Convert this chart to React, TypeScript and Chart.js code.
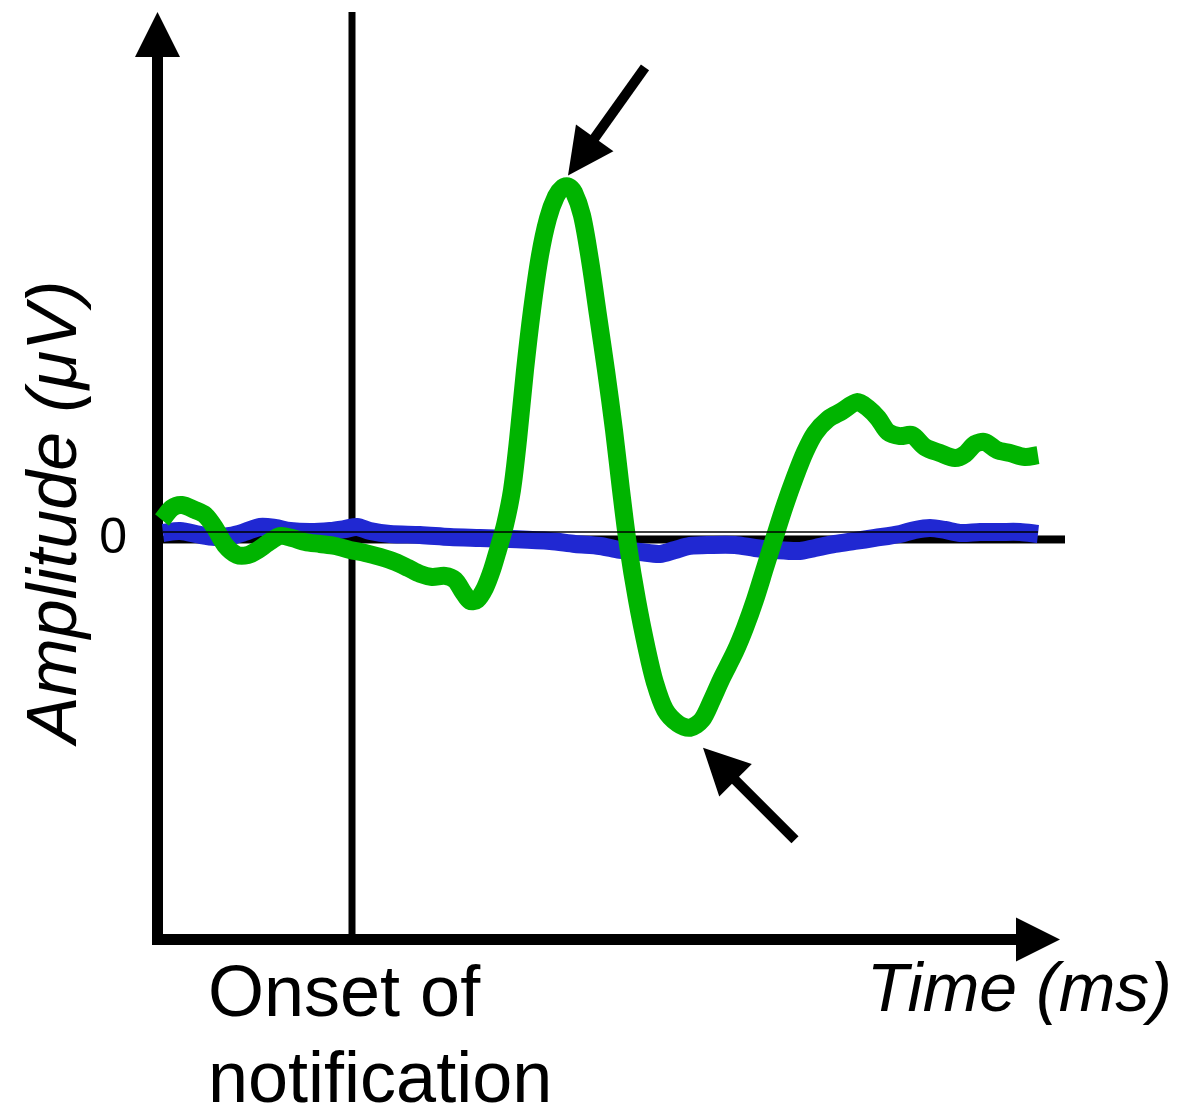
import React, { useEffect, useRef } from "react";
import { Chart, registerables } from "chart.js";

Chart.register(...registerables);

// ---- data (time in ms relative to notification onset, amplitude in µV) ----
const greenTimes = [
  -190, -180, -170, -157, -147, -137, -127, -115, -104, -94, -84, -72, -60, -47, -32,
  -17, -2, 13, 28, 43, 56, 68, 80, 93, 103, 111, 118, 125, 133, 140, 146, 153, 160,
  166, 173, 180, 188, 196, 204, 211, 216, 222, 230, 238, 246, 254, 262, 269, 276, 285,
  295, 303, 313, 326, 338, 350, 360, 369, 383, 393, 403, 413, 423, 433, 443, 453, 463,
  476, 490, 505, 516, 526, 536, 548, 560, 573, 588, 603, 613, 623, 633, 645, 658, 673, 686,
];
const greenValues = [
  0.39, 0.63, 0.69, 0.59, 0.49, 0.23, -0.11, -0.31, -0.31, -0.21, -0.07, 0.07, 0.03, -0.05, -0.09,
  -0.13, -0.21, -0.27, -0.35, -0.45, -0.57, -0.69, -0.75, -0.73, -0.81, -1.05, -1.23, -1.21, -0.97, -0.61,
  -0.21, 0.29, 0.99, 1.99, 3.39, 4.59, 5.69, 6.43, 6.87, 7.05, 7.07, 6.95, 6.49, 5.59, 4.49,
  3.39, 2.19, 0.99, -0.11, -1.21, -2.21, -2.87, -3.41, -3.69, -3.77, -3.61, -3.21, -2.81, -2.25, -1.77,
  -1.21, -0.57, 0.07, 0.69, 1.25, 1.75, 2.13, 2.41, 2.57, 2.75, 2.63, 2.43, 2.15, 2.07, 2.09,
  1.85, 1.73, 1.63, 1.71, 1.91, 1.95, 1.79, 1.73, 1.65, 1.69,
];
const blueTimes = [
  -189, -172, -152, -137, -122, -107, -92, -77, -62, -42, -22, -7, 5, 18, 38,
  68, 98, 128, 158, 198, 223, 248, 268, 288, 308, 323, 338, 358, 383, 403,
  423, 448, 463, 483, 503, 523, 548, 563, 578, 593, 608, 628, 648, 668, 686,
];
const blueValues = [
  0.13, 0.17, 0.09, 0.05, 0.07, 0.15, 0.25, 0.23, 0.17, 0.15, 0.17, 0.21, 0.25, 0.17, 0.11,
  0.09, 0.05, 0.03, 0.01, -0.03, -0.09, -0.13, -0.21, -0.25, -0.29, -0.21, -0.13, -0.11, -0.11, -0.17,
  -0.21, -0.23, -0.17, -0.09, -0.03, 0.03, 0.11, 0.19, 0.23, 0.19, 0.13, 0.15, 0.15, 0.15, 0.11,
];
const yTickValues = [0];
const yTickLabels = ["0"];
const xTitle = "Time (ms)";
const yTitle = "Amplitude (μV)";
const onsetLabel = ["Onset of", "notification"];
const onsetTime = 0;
const zeroLineRange = [-195, 713];
const thinRefLine = { value: 0.15, from: -189, to: 686 };
const xRange = [-200, 820];
const yRange = [-8, 9.1];
const xAxisEnd = 708;

const FONT = "'Liberation Sans', Arial, Helvetica, sans-serif";
const GREEN = "#00b400";
const BLUE = "#2028d2";

function drawArrow(ctx: CanvasRenderingContext2D, tipX: number, tipY: number, tailX: number, tailY: number) {
  const dx = tailX - tipX;
  const dy = tailY - tipY;
  const len = Math.hypot(dx, dy);
  const ux = dx / len;
  const uy = dy / len;
  const px = -uy;
  const py = ux;
  const headLen = 46;
  const half = 23;
  const bx = tipX + ux * headLen;
  const by = tipY + uy * headLen;
  ctx.beginPath();
  ctx.lineWidth = 10;
  ctx.lineCap = "butt";
  ctx.moveTo(bx - ux * 5, by - uy * 5);
  ctx.lineTo(tailX, tailY);
  ctx.stroke();
  ctx.beginPath();
  ctx.moveTo(tipX, tipY);
  ctx.lineTo(bx + px * half, by + py * half);
  ctx.lineTo(bx - px * half, by - py * half);
  ctx.closePath();
  ctx.fill();
}

const decorPlugin = {
  id: "decor",
  beforeDatasetsDraw(chart: any) {
    const { ctx, chartArea: ca, scales } = chart;
    const x = scales.x;
    const y = scales.y;
    ctx.save();
    ctx.fillStyle = "#000";
    // thick zero line
    const y0 = y.getPixelForValue(0);
    const zx1 = x.getPixelForValue(zeroLineRange[0]);
    const zx2 = x.getPixelForValue(zeroLineRange[1]);
    ctx.fillRect(zx1, y0 - 4, zx2 - zx1, 8);
    // onset line
    const xo = x.getPixelForValue(onsetTime);
    const topY = ca.top - 73;
    ctx.fillRect(xo - 3.5, topY, 7, ca.bottom - topY);
    // y axis with arrow
    const ax = ca.left + 5.5;
    ctx.fillRect(ca.left, topY + 40, 11, ca.bottom + 6 - (topY + 40));
    ctx.beginPath();
    ctx.moveTo(ax, topY);
    ctx.lineTo(ax + 22.5, topY + 45);
    ctx.lineTo(ax - 22.5, topY + 45);
    ctx.closePath();
    ctx.fill();
    // x axis with arrow
    const tipX = x.getPixelForValue(xAxisEnd);
    const ay = ca.bottom + 0.5;
    ctx.fillRect(ca.left, ay - 5.5, tipX - 40 - ca.left, 11);
    ctx.beginPath();
    ctx.moveTo(tipX, ay);
    ctx.lineTo(tipX - 44, ay - 22);
    ctx.lineTo(tipX - 44, ay + 22);
    ctx.closePath();
    ctx.fill();
    ctx.restore();
  },
  afterDatasetsDraw(chart: any) {
    const { ctx, scales } = chart;
    const x = scales.x;
    const y = scales.y;
    ctx.save();
    // thin reference line on top
    const ty = y.getPixelForValue(thinRefLine.value);
    ctx.strokeStyle = "#000";
    ctx.lineWidth = 1.5;
    ctx.beginPath();
    ctx.moveTo(x.getPixelForValue(thinRefLine.from), ty);
    ctx.lineTo(x.getPixelForValue(thinRefLine.to), ty);
    ctx.stroke();
    // arrows at peak and trough
    let iMax = 0;
    let iMin = 0;
    greenValues.forEach((v, i) => {
      if (v > greenValues[iMax]) iMax = i;
      if (v < greenValues[iMin]) iMin = i;
    });
    ctx.fillStyle = "#000";
    ctx.strokeStyle = "#000";
    const pkX = x.getPixelForValue(greenTimes[iMax]);
    const pkY = y.getPixelForValue(greenValues[iMax]);
    drawArrow(ctx, pkX, pkY - 11, pkX + 77, pkY - 119);
    const trX = x.getPixelForValue(greenTimes[iMin]);
    const trY = y.getPixelForValue(greenValues[iMin]);
    drawArrow(ctx, trX + 13, trY + 20, trX + 105, trY + 112);
    // onset label
    const xo = x.getPixelForValue(onsetTime);
    ctx.font = `72px ${FONT}`;
    ctx.textAlign = "left";
    ctx.textBaseline = "alphabetic";
    ctx.fillStyle = "#000";
    ctx.fillText(onsetLabel[0], xo - 144, chart.chartArea.bottom + 77);
    ctx.fillText(onsetLabel[1], xo - 144, chart.chartArea.bottom + 163);
    ctx.restore();
  },
};

export default function App() {
  const ref = useRef<HTMLCanvasElement | null>(null);
  useEffect(() => {
    if (!ref.current) return;
    const chart = new Chart(ref.current, {
      type: "line",
      data: {
        datasets: [
          {
            label: "Notification",
            data: greenTimes.map((t, i) => ({ x: t, y: greenValues[i] })),
            borderColor: GREEN,
            backgroundColor: GREEN,
            borderWidth: 18,
            pointRadius: 0,
            tension: 0.3,
            borderCapStyle: "butt",
            borderJoinStyle: "round",
            fill: false,
          },
          {
            label: "Control",
            data: blueTimes.map((t, i) => ({ x: t, y: blueValues[i] })),
            borderColor: BLUE,
            backgroundColor: BLUE,
            borderWidth: 18,
            pointRadius: 0,
            tension: 0.3,
            borderCapStyle: "butt",
            borderJoinStyle: "round",
            fill: false,
          },
        ],
      },
      options: {
        animation: false,
        responsive: false,
        devicePixelRatio: 1,
        layout: { padding: { top: 85, right: 14, left: 0, bottom: 0 } },
        plugins: { legend: { display: false }, tooltip: { enabled: false } },
        scales: {
          x: {
            type: "linear",
            min: xRange[0],
            max: xRange[1],
            grid: { display: false, drawTicks: false },
            border: { display: false },
            ticks: { display: false },
            title: {
              display: true,
              text: xTitle,
              align: "end",
              color: "#000",
              font: { family: FONT, size: 68, style: "italic", weight: "normal" },
              padding: { top: 0, bottom: 80 },
            },
            afterFit: (s: any) => {
              s.height = 174;
            },
          },
          y: {
            type: "linear",
            min: yRange[0],
            max: yRange[1],
            grid: { display: false, drawTicks: false },
            border: { display: false },
            afterBuildTicks: (s: any) => {
              s.ticks = yTickValues.map((v) => ({ value: v }));
            },
            ticks: {
              color: "#000",
              padding: 25,
              font: { family: FONT, size: 50 },
              callback: (v: any) => {
                const i = yTickValues.indexOf(Number(v));
                return i >= 0 ? yTickLabels[i] : "";
              },
            },
            title: {
              display: true,
              text: yTitle,
              align: "center",
              color: "#000",
              font: { family: FONT, size: 70, style: "italic", weight: "normal" },
              padding: { top: 15, bottom: 0 },
            },
            afterFit: (s: any) => {
              s.width = 152;
            },
          },
        },
      },
      plugins: [decorPlugin],
    });
    return () => chart.destroy();
  }, []);
  return (
    <div style={{ position: "absolute", left: 0, top: 0, width: 1186, height: 1113, background: "#fff" }}>
      <canvas ref={ref} width={1186} height={1113} style={{ display: "block" }} />
    </div>
  );
}
